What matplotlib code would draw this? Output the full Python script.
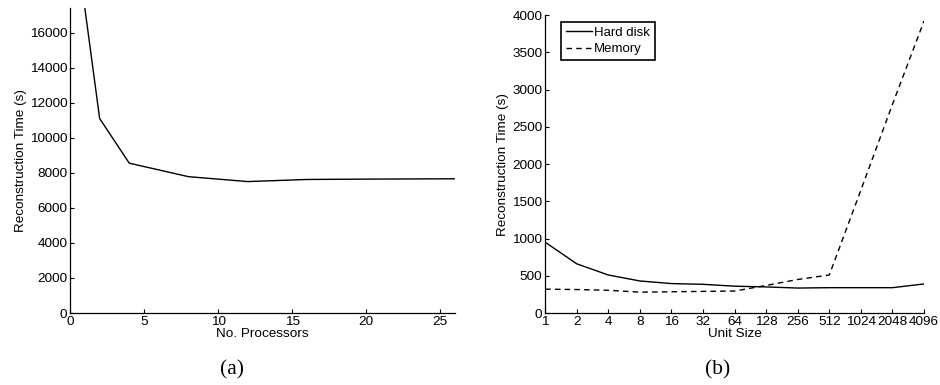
import matplotlib
matplotlib.use("Agg")
import matplotlib.pyplot as plt
import numpy as np

plt.rcParams['font.family'] = ['Liberation Sans', 'DejaVu Sans']

# (a) data
procs = [1, 2, 4, 8, 12, 16, 20, 26]
time_a = [17400, 11100, 8550, 7780, 7500, 7620, 7640, 7660]

# (b) data
unit_labels = ['1', '2', '4', '8', '16', '32', '64', '128', '256', '512', '1024', '2048', '4096']
hard_disk = [950, 660, 510, 430, 395, 385, 360, 350, 335, 340, 340, 340, 390]
memory = [320, 315, 305, 280, 285, 290, 295, 370, 450, 510, 1650, 2800, 3920]

fig = plt.figure(figsize=(9.4, 3.85), dpi=100)

fs = 9.7

def style(ax):
    ax.spines['top'].set_visible(False)
    ax.spines['right'].set_visible(False)
    for s in ['left', 'bottom']:
        ax.spines[s].set_linewidth(0.9)
    ax.tick_params(direction='in', length=3, width=0.8, labelsize=fs, pad=2)

ax1 = fig.add_axes([0.0745, 0.187, 0.4095, 0.792])
ax1.plot(procs, time_a, color='black', linewidth=1.0)
ax1.set_xlim(0, 26)
ax1.set_ylim(0, 17400)
ax1.set_xticks([0, 5, 10, 15, 20, 25])
ax1.set_yticks(np.arange(0, 16001, 2000))
ax1.set_xlabel('No. Processors', fontsize=fs, labelpad=0)
ax1.set_ylabel('Reconstruction Time (s)', fontsize=fs, labelpad=2)
style(ax1)

ax2 = fig.add_axes([0.580, 0.187, 0.403, 0.774])
xi = np.arange(len(unit_labels))
ax2.plot(xi, hard_disk, color='black', linewidth=1.0, label='Hard disk')
ax2.plot(xi, memory, color='black', linewidth=1.0, linestyle=(0, (4, 3)), label='Memory')
ax2.set_xlim(0, len(unit_labels) - 1)
ax2.set_ylim(0, 4000)
ax2.set_xticks(xi)
ax2.set_xticklabels(unit_labels)
ax2.set_yticks(np.arange(0, 4001, 500))
ax2.set_xlabel('Unit Size', fontsize=fs, labelpad=0)
ax2.set_ylabel('Reconstruction Time (s)', fontsize=fs, labelpad=2)
style(ax2)
leg = ax2.legend(loc='upper left', bbox_to_anchor=(0.035, 0.985), fontsize=9.5,
                 frameon=True, fancybox=False, edgecolor='black', framealpha=1,
                 handlelength=2.0, handletextpad=0.15, borderpad=0.35,
                 labelspacing=0.3, borderaxespad=0.2)
leg.get_frame().set_linewidth(1.2)

fig.text(0.247, 0.039, '(a)', ha='center', va='center', fontsize=15.5,
         family=['Liberation Serif', 'DejaVu Serif'])
fig.text(0.763, 0.039, '(b)', ha='center', va='center', fontsize=15.5,
         family=['Liberation Serif', 'DejaVu Serif'])

fig.savefig('out.png', dpi=100)
